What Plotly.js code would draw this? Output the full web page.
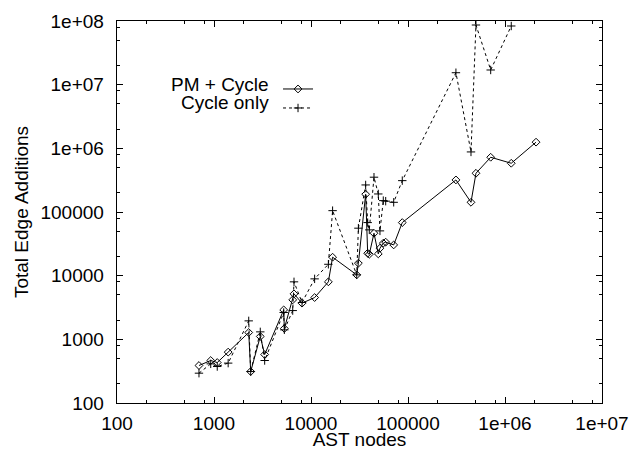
<!DOCTYPE html>
<html>
<head>
<meta charset="utf-8">
<script src="https://cdn.plot.ly/plotly-3.0.1.min.js"></script>
<style>
  html, body { margin: 0; padding: 0; background: #fff; }
  #chart { width: 631px; height: 450px; }
</style>
</head>
<body>
<div id="chart"></div>
<script>
// ---- data ----
const astNodes = [700, 925, 1080, 1400, 2280, 2390, 3000, 3330, 5230, 5310, 6480, 6680, 8080,
  10900, 15100, 16700, 29600, 30800, 36600, 38400, 39900, 44600, 49400, 51400, 55600, 58900,
  71200, 87300, 312000, 446000, 502000, 712000, 1160000, 2090000];
const pmCycle = [388, 465, 432, 630, 1280, 312, 1110, 577, 2900, 1480, 4170, 5180, 3700,
  4530, 8000, 19500, 10300, 15700, 190000, 22500, 21700, 46400, 22000, 27000, 32400, 33600,
  30400, 68200, 319000, 142000, 406000, 724000, 583000, 1250000];
const cycleOnly = [294, 412, 374, 423, 1950, 312, 1310, 465, 2640, 1410, 2830, 8000, 3790,
  8910, 15100, 105000, 10300, 55700, 266000, 68200, 52400, 352000, 192000, 50500, 151000, 148000,
  142000, 311000, 15400000, 878000, 86500000, 17000000, 83500000];

const seriesNames = ["PM + Cycle", "Cycle only"];
const xTickVals = [100, 1000, 10000, 100000, 1000000, 10000000];
const xTickText = ["100", "1000", "10000", "100000", "1e+06", "1e+07"];
const yTickVals = [100, 1000, 10000, 100000, 1000000, 10000000, 100000000];
const yTickText = ["100", "1000", "10000", "100000", "1e+06", "1e+07", "1e+08"];
const minorMantissas = [2, 5, 8];

function minorVals(lo, hi) {
  const out = [];
  for (let e = lo; e < hi; e++) minorMantissas.forEach(m => out.push(m * Math.pow(10, e)));
  return out;
}

const FONT = "Liberation Sans, Arial, Helvetica, sans-serif";
const FS = 19;

const traces = [
  {
    x: astNodes, y: pmCycle, name: " ", type: "scatter", mode: "lines+markers",
    line: { color: "#000", width: 1 },
    marker: { symbol: "diamond-open", size: 6, color: "#000", line: { color: "#000", width: 1 } },
    hovertext: seriesNames[0]
  },
  {
    x: astNodes.slice(0, cycleOnly.length), y: cycleOnly, name: " ", type: "scatter", mode: "lines+markers",
    line: { color: "#000", width: 1, dash: "3px,3px" },
    marker: { symbol: "cross-thin-open", size: 6, color: "#000", line: { color: "#000", width: 1 } },
    hovertext: seriesNames[1]
  }
];

const axisCommon = {
  type: "log",
  showgrid: false, zeroline: false,
  showline: true, linecolor: "#000", linewidth: 1.3, mirror: "ticks",
  ticks: "inside", ticklen: 6, tickwidth: 1, tickcolor: "#000",
  tickmode: "array",
  tickfont: { family: FONT, size: FS, color: "#000" },
  automargin: false
};

const layout = {
  width: 631, height: 450,
  margin: { l: 117, r: 29, t: 21, b: 47 },
  paper_bgcolor: "#fff", plot_bgcolor: "#fff",
  font: { family: FONT, size: FS, color: "#000" },
  showlegend: true,
  legend: {
    x: 0.332, y: 0.86, xanchor: "left", yanchor: "top",
    bgcolor: "rgba(0,0,0,0)", borderwidth: 0,
    font: { family: FONT, size: 12, color: "#000" },
    itemwidth: 30, tracegroupgap: 0
  },
  xaxis: Object.assign({}, axisCommon, {
    range: [2, 7],
    tickvals: xTickVals, ticktext: xTickText,
    ticklabelstandoff: 3,
    minor: { tickmode: "array", tickvals: minorVals(2, 7), ticks: "inside", ticklen: 3, tickcolor: "#000", tickwidth: 1, showgrid: false },
    title: { text: "AST nodes", font: { family: FONT, size: FS, color: "#000" }, standoff: 2 }
  }),
  yaxis: Object.assign({}, axisCommon, {
    range: [2, 8],
    tickvals: yTickVals, ticktext: yTickText,
    ticklabelstandoff: 8,
    minor: { tickmode: "array", tickvals: minorVals(2, 8), ticks: "inside", ticklen: 3, tickcolor: "#000", tickwidth: 1, showgrid: false },
    title: { text: "Total Edge Additions", font: { family: FONT, size: FS, color: "#000" }, standoff: 6 }
  }),
  annotations: [
    { xref: "paper", yref: "paper", x: 0.3175, y: 0.8325, xanchor: "right", yanchor: "middle",
      text: seriesNames[0], showarrow: false, font: { family: FONT, size: FS, color: "#000" } },
    { xref: "paper", yref: "paper", x: 0.3175, y: 0.7855, xanchor: "right", yanchor: "middle",
      text: seriesNames[1], showarrow: false, font: { family: FONT, size: FS, color: "#000" } }
  ]
};

Plotly.newPlot("chart", traces, layout, { staticPlot: true, displayModeBar: false });
</script>
</body>
</html>
